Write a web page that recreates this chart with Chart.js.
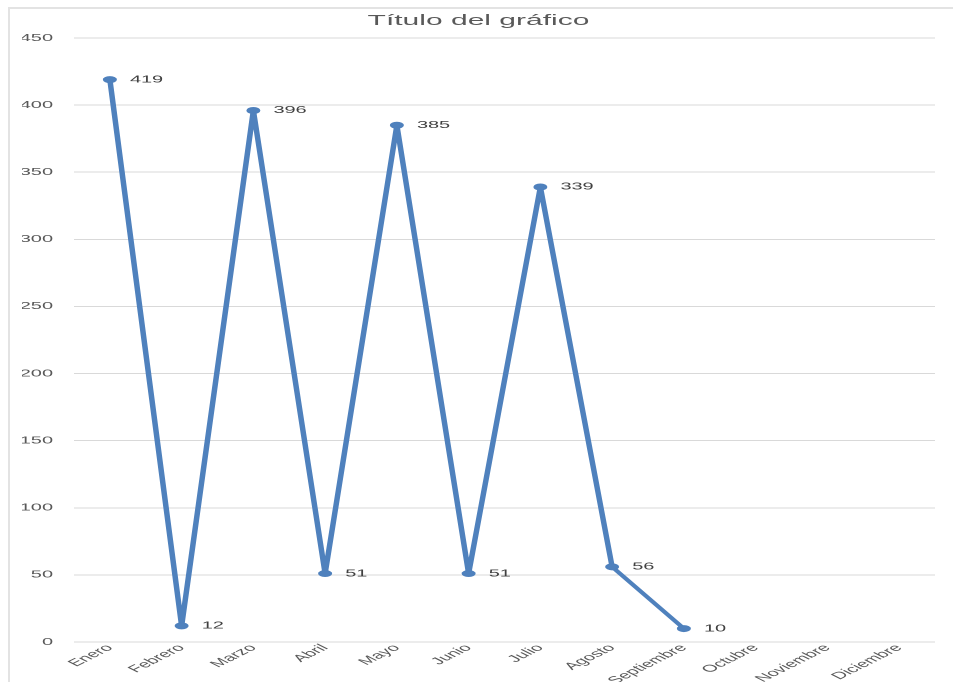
<!DOCTYPE html>
<html>
<head>
<meta charset="utf-8">
<script src="https://cdn.jsdelivr.net/npm/chart.js@4"></script>
<style>
  html, body { margin: 0; padding: 0; background: #ffffff; overflow: hidden; width: 953px; height: 682px; }
  #frame { position: absolute; left: 8px; top: 7px; width: 1000px; height: 1000px;
           border-top: 2px solid #e3e3e3; border-left: 2px solid #e3e3e3; box-sizing: border-box; }
  #c { position: absolute; left: 0; top: 0; transform: scaleX(2); transform-origin: 0 0; }
</style>
</head>
<body>
<div id="frame"></div>
<canvas id="c" width="477" height="682" style="width:477px;height:682px"></canvas>
<script>
const categories = ["Enero", "Febrero", "Marzo", "Abril", "Mayo", "Junio", "Julio", "Agosto", "Septiembre", "Octubre", "Noviembre", "Diciembre"];
const values = [419, 12, 396, 51, 385, 51, 339, 56, 10, null, null, null];
const yTicks = [0, 50, 100, 150, 200, 250, 300, 350, 400, 450];
const chartTitle = "Título del gráfico";

const FONT = "'Liberation Sans', Arial, sans-serif";

const pointLabels = {
  id: 'pointLabels',
  afterDatasetsDraw(chart) {
    const ctx = chart.ctx;
    const meta = chart.getDatasetMeta(0);
    ctx.save();
    ctx.font = "10px " + FONT;
    ctx.fillStyle = "#404040";
    ctx.textAlign = "left";
    ctx.textBaseline = "middle";
    meta.data.forEach((el, i) => {
      const v = chart.data.datasets[0].data[i];
      if (v === null || v === undefined) return;
      ctx.fillText(String(v), el.x + 10, el.y);
    });
    ctx.restore();
  }
};

new Chart(document.getElementById('c'), {
  type: 'line',
  data: {
    labels: categories,
    datasets: [{
      data: values,
      borderColor: '#4f81bd',
      backgroundColor: '#4f81bd',
      borderWidth: 2.75,
      pointRadius: 3,
      pointBorderWidth: 1,
      pointBackgroundColor: '#4f81bd',
      pointBorderColor: '#4f81bd',
      tension: 0,
      spanGaps: false,
      fill: false
    }]
  },
  options: {
    responsive: false,
    devicePixelRatio: 2,
    animation: false,
    layout: { padding: { left: 11, right: 9.5, top: 0, bottom: 0 } },
    plugins: {
      legend: { display: false },
      tooltip: { enabled: false },
      title: {
        display: true,
        text: chartTitle,
        color: '#595959',
        font: { family: FONT, size: 15, weight: 'normal' },
        padding: { top: 12, bottom: 8 }
      }
    },
    scales: {
      x: {
        offset: true,
        grid: { display: false, drawTicks: false },
        border: { display: false },
        ticks: {
          color: '#595959',
          font: { family: FONT, size: 10 },
          minRotation: 45,
          maxRotation: 45,
          padding: 0,
          autoSkip: false
        },
        afterFit(scale) { scale.height = 40; }
      },
      y: {
        min: 0,
        max: 450,
        grid: { color: '#d9d9d9', lineWidth: 1, drawTicks: false },
        border: { display: false },
        afterBuildTicks(scale) { scale.ticks = yTicks.map(v => ({ value: v })); },
        ticks: {
          color: '#595959',
          font: { family: FONT, size: 10 },
          padding: 10.5
        },
        afterFit(scale) { scale.width = 26; }
      }
    }
  },
  plugins: [pointLabels]
});
</script>
</body>
</html>
